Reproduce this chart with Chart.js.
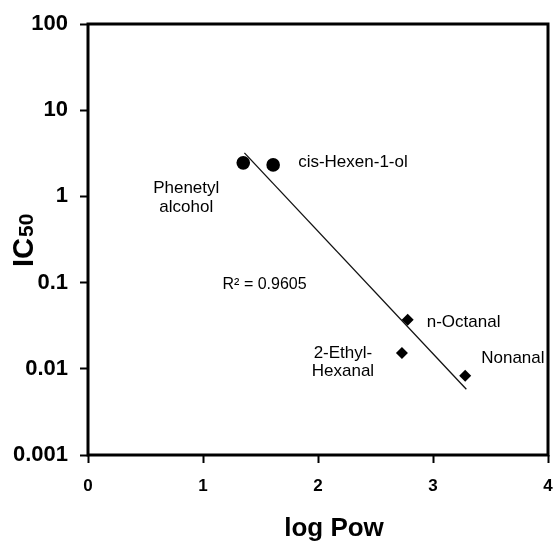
<!DOCTYPE html>
<html>
<head>
<meta charset="utf-8">
<script src="https://cdn.jsdelivr.net/npm/chart.js@4.4.0/dist/chart.umd.min.js"></script>
<style>
html, body { margin: 0; padding: 0; background: #fff; }
#wrap { width: 556px; height: 546px; }
</style>
</head>
<body>
<div id="wrap"><canvas id="ic50Chart" width="556" height="546"></canvas></div>
<script>
// valores
const xTicks = [0, 1, 2, 3, 4];
const yTicks = [100, 10, 1, 0.1, 0.01, 0.001];

const alcoholLabels = [['Phenetyl', 'alcohol'], ['cis-Hexen-1-ol']];
const alcoholLogPow = [1.35, 1.61];
const alcoholIC50 = [2.45, 2.32];

const aldehydeLabels = [['n-Octanal'], ['2-Ethyl-', 'Hexanal'], ['Nonanal']];
const aldehydeLogPow = [2.78, 2.73, 3.28];
const aldehydeIC50 = [0.037, 0.0153, 0.0083];

const trendLogPow = [1.36, 3.29];
const trendIC50 = [3.2, 0.0058];

const r2Text = 'R² = 0.9605';
const xTitle = 'log Pow';
const yTitleMain = 'IC';
const yTitleSub = '50';

const FONT = '"Liberation Sans", Arial, sans-serif';

// onde fica o texto de cada ponto (deslocamento em px a partir do ponto)
const labelOffsets = {
    0: [{ dx: -57, dy: 25, align: 'center', step: 19 }, { dx: 25, dy: -3, align: 'left', step: 19 }],
    1: [{ dx: 19, dy: 2, align: 'left', step: 19 }, { dx: -59, dy: 0, align: 'center', step: 18 }, { dx: 16, dy: -17, align: 'left', step: 19 }]
};

const toPoints = (xs, ys) => xs.map((x, i) => ({ x: x, y: ys[i] }));

const framePlugin = {
    id: 'frame',
    afterDraw: function (chart) {
        const a = chart.chartArea;
        const ctx = chart.ctx;
        ctx.save();
        ctx.strokeStyle = '#000';
        ctx.lineWidth = 3;
        ctx.strokeRect(a.left, a.top, a.right - a.left, a.bottom - a.top);
        ctx.restore();
    }
};

const textPlugin = {
    id: 'texts',
    afterDraw: function (chart) {
        const ctx = chart.ctx;
        ctx.save();
        ctx.fillStyle = '#000';
        ctx.textBaseline = 'middle';
        ctx.font = '17px ' + FONT;

        // rótulos dos pontos
        [0, 1].forEach(function (di) {
            const meta = chart.getDatasetMeta(di);
            const names = chart.data.datasets[di].names;
            meta.data.forEach(function (pt, i) {
                const o = labelOffsets[di][i];
                ctx.textAlign = o.align;
                names[i].forEach(function (line, k) {
                    ctx.fillText(line, pt.x + o.dx, pt.y + o.dy + k * o.step);
                });
            });
        });

        // R²
        const xs = chart.scales.x, ys = chart.scales.y;
        ctx.font = '16px ' + FONT;
        ctx.textAlign = 'left';
        ctx.fillText(r2Text, xs.getPixelForValue(1.17), ys.getPixelForValue(0.1) + 2);

        // título do eixo x
        ctx.font = 'bold 26px ' + FONT;
        ctx.textAlign = 'center';
        ctx.fillText(xTitle, 334, 529);

        // título do eixo y (IC com subscrito 50)
        ctx.translate(33, 267);
        ctx.rotate(-Math.PI / 2);
        ctx.textAlign = 'left';
        ctx.textBaseline = 'alphabetic';
        ctx.font = 'bold 29px ' + FONT;
        ctx.fillText(yTitleMain, 0, 0);
        const w = ctx.measureText(yTitleMain).width;
        ctx.font = 'bold 21px ' + FONT;
        ctx.fillText(yTitleSub, w + 1, 0);
        ctx.restore();
    }
};

const ctx = document.getElementById('ic50Chart');
const chart = new Chart(ctx, {
    type: 'scatter',
    data: {
        datasets: [
            {
                label: 'alcohols',
                names: alcoholLabels,
                data: toPoints(alcoholLogPow, alcoholIC50),
                pointStyle: 'circle',
                pointRadius: 6.8,
                backgroundColor: '#000',
                borderColor: '#000',
                borderWidth: 0
            },
            {
                label: 'aldehydes',
                names: aldehydeLabels,
                data: toPoints(aldehydeLogPow, aldehydeIC50),
                pointStyle: 'rectRot',
                pointRadius: 6,
                backgroundColor: '#000',
                borderColor: '#000',
                borderWidth: 0
            },
            {
                type: 'line',
                label: 'trend',
                data: toPoints(trendLogPow, trendIC50),
                borderColor: '#111',
                borderWidth: 1.3,
                pointRadius: 0,
                fill: false,
                tension: 0
            }
        ]
    },
    options: {
        responsive: false,
        animation: false,
        layout: { padding: { top: 24, right: 8, left: 0, bottom: 0 } },
        plugins: {
            legend: { display: false },
            tooltip: { enabled: false }
        },
        scales: {
            x: {
                type: 'linear',
                min: 0,
                max: 4,
                afterBuildTicks: function (s) { s.ticks = xTicks.map(v => ({ value: v })); },
                afterFit: function (s) {
                    s.height = 91;
                    s.paddingLeft = 0; s.paddingRight = 0;
                },
                border: { display: false },
                grid: { drawOnChartArea: false, drawTicks: true, tickLength: 8, tickWidth: 2, tickColor: '#000' },
                ticks: {
                    color: '#000',
                    padding: 13,
                    maxRotation: 0,
                    autoSkip: false,
                    font: { family: FONT, size: 17, weight: 'bold' }
                }
            },
            y: {
                type: 'logarithmic',
                min: 0.001,
                max: 100,
                afterBuildTicks: function (s) { s.ticks = yTicks.map(v => ({ value: v })); },
                afterFit: function (s) {
                    s.width = 88;
                    s.paddingTop = 0; s.paddingBottom = 0;
                },
                border: { display: false },
                grid: { drawOnChartArea: false, drawTicks: true, tickLength: 8, tickWidth: 2, tickColor: '#000' },
                ticks: {
                    color: '#000',
                    padding: 12,
                    autoSkip: false,
                    callback: function (v) { return String(v); },
                    font: { family: FONT, size: 22, weight: 'bold' }
                }
            }
        }
    },
    plugins: [framePlugin, textPlugin]
});
</script>
</body>
</html>
